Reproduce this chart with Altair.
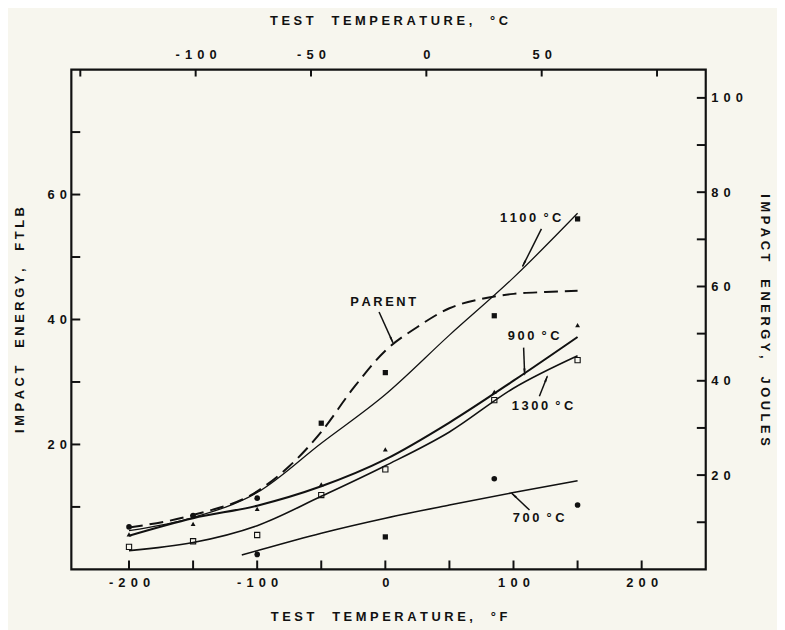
import math
import altair as alt
import pandas as pd

# ---------------- data ----------------
# curves: test temperature (deg F) vs impact energy (ft-lb)
parent_F = [-200, -150, -100, -75, -50, -25, 0, 25, 50, 75, 100, 125, 150]
parent_E = [6.7, 8.7, 12.5, 16.5, 22.0, 29.0, 35.0, 38.8, 41.8, 43.3, 44.1, 44.4, 44.6]

c1100_F = [-200, -150, -100, -50, 0, 50, 100, 150]
c1100_E = [6.2, 8.3, 12.3, 20.2, 28.0, 37.5, 46.7, 57.0]

c900_F = [-200, -150, -100, -50, 0, 50, 100, 150]
c900_E = [5.4, 8.2, 10.2, 13.3, 17.6, 23.5, 30.2, 37.2]

c1300_F = [-200, -150, -100, -50, 0, 50, 100, 150]
c1300_E = [3.0, 4.3, 7.0, 11.7, 16.6, 22.0, 29.0, 34.2]

c700_F = [-112, -100, -50, 0, 50, 100, 150]
c700_E = [2.3, 3.0, 5.8, 8.2, 10.3, 12.3, 14.2]

# measured points
tri_F = [-200, -150, -100, -50, 0, 85, 150]
tri_E = [5.6, 7.3, 9.7, 13.6, 19.2, 28.4, 39.1]

osq_F = [-200, -150, -100, -50, 0, 85, 150]
osq_E = [3.6, 4.5, 5.5, 11.9, 16.0, 27.1, 33.5]

fsq_F = [-50, 0, 85, 150, 0]
fsq_E = [23.4, 31.5, 40.6, 56.1, 5.2]

fcirc_F = [-200, -150, -100, -100, 85, 150]
fcirc_E = [6.8, 8.6, 11.4, 2.4, 14.5, 10.3]

# annotations
ann_text = ["1100 °C", "PARENT", "900 °C", "1300 °C", "700 °C"]
ann_F = [89.4, -27.3, 95.5, 98.6, 99.4]
ann_E = [56.2, 42.8, 37.4, 26.1, 8.2]
arr_F1 = [121.8, -4.9, 107.9, 120.2, 112.5]
arr_E1 = [54.5, 41.2, 35.5, 27.7, 9.5]
arr_F2 = [107.1, 5.9, 108.7, 126.4, 98.6]
arr_E2 = [48.5, 36.3, 31.2, 30.9, 12.2]

# axes
F_ticks = [-200, -150, -100, -50, 0, 50, 100, 150, 200]
F_labels = [-200, -100, 0, 100, 200]
E_ticks = [10, 20, 30, 40, 50, 60, 70]
E_labels = [20, 40, 60]
C_ticks = [-150, -100, -50, 0, 50, 100]
C_labels = [-100, -50, 0, 50]
J_ticks = [10, 20, 30, 40, 50, 60, 70, 80, 90, 100]
J_labels = [20, 40, 60, 80, 100]

X_MIN, X_MAX = -245, 250
Y_MIN, Y_MAX = 0, 80
J_MAX = 106
C_MIN, C_MAX = (X_MIN - 32) / 1.8, (X_MAX - 32) / 1.8

# ---------------- layout ----------------
W, H = 641, 505
FONT = "Liberation Sans"
INK = "#111111"
BG = "#f7f6ee"
THIN = "\u2009"
NB = "\u00a0"


def spaced(s, sep):
    return sep.join(list(s))


def title_text(s):
    # letter-spaced title, wide gaps between words
    return (NB * 5).join(spaced(w, NB) for w in s.split(" "))


def ann_label(s):
    if "°" in s:
        num = s.split(" ")[0]
        return spaced(num, THIN) + NB * 2 + "°" + NB + "C"
    return spaced(s, THIN)


xs = alt.Scale(domain=[X_MIN, X_MAX], nice=False, zero=False)
ys = alt.Scale(domain=[Y_MIN, Y_MAX], nice=False, zero=False)
cs = alt.Scale(domain=[C_MIN, C_MAX], nice=False, zero=False)
js = alt.Scale(domain=[0, J_MAX], nice=False, zero=False)

lab_expr = "join(split(toString(datum.value), ''), '" + THIN + THIN + "')"

common = dict(ticks=False, tickSize=0, domain=False, grid=False, labelExpr=lab_expr,
              labelFont=FONT, labelFontSize=13, labelFontWeight="bold", labelColor=INK,
              titleFont=FONT, titleFontSize=13, titleFontWeight="bold", titleColor=INK)

axisF = alt.Axis(values=F_labels, labelPadding=7,
                 title=title_text("TEST TEMPERATURE, °F"), titlePadding=22, **common)
axisE = alt.Axis(values=E_labels, labelPadding=5,
                 title=title_text("IMPACT ENERGY, FTLB"), titlePadding=21, **common)
axisC = alt.Axis(orient="top", values=C_labels, labelPadding=8,
                 title=title_text("TEST TEMPERATURE, °C"), titlePadding=22, **common)
axisJ = alt.Axis(orient="right", values=J_labels, labelPadding=5,
                 title=title_text("IMPACT ENERGY, JOULES"), titlePadding=15, **common)

X = lambda f="F": alt.X(f + ":Q", scale=xs, axis=axisF)
Y = lambda f="E": alt.Y(f + ":Q", scale=ys, axis=axisE)


def curve(F, E, width, dash=None):
    df = pd.DataFrame({"F": F, "E": E})
    kw = dict(color=INK, strokeWidth=width, interpolate="monotone", clip=True)
    if dash:
        kw["strokeDash"] = dash
    return alt.Chart(df).mark_line(**kw).encode(x=X(), y=Y())


def pts(F, E, shape, size, filled=True):
    df = pd.DataFrame({"F": F, "E": E})
    if filled:
        m = alt.Chart(df).mark_point(shape=shape, size=size, filled=True, color=INK, opacity=1)
    else:
        m = alt.Chart(df).mark_point(shape=shape, size=size, filled=False, color=INK,
                                     strokeWidth=1.1, opacity=1)
    return m.encode(x=X(), y=Y())


lines = [
    curve(parent_F, parent_E, 2.0, [14, 7]),
    curve(c1100_F, c1100_E, 1.3),
    curve(c900_F, c900_E, 2.1),
    curve(c1300_F, c1300_E, 1.6),
    curve(c700_F, c700_E, 1.6),
]
points = [
    pts(tri_F, tri_E, "triangle-up", 24),
    pts(osq_F, osq_E, "square", 28, filled=False),
    pts(fsq_F, fsq_E, "square", 28),
    pts(fcirc_F, fcirc_E, "circle", 32),
]

# annotations
pxF = W / (X_MAX - X_MIN)
pxE = H / (Y_MAX - Y_MIN)
angles, hx, hy = [], [], []
for x1, y1, x2, y2 in zip(arr_F1, arr_E1, arr_F2, arr_E2):
    dx = (x2 - x1) * pxF
    dy = -(y2 - y1) * pxE
    L = math.hypot(dx, dy)
    ux, uy = dx / L, dy / L
    angles.append(math.degrees(math.atan2(dx, -dy)) % 360)
    hx.append(x2 - 3.5 * ux / pxF)
    hy.append(y2 + 3.5 * uy / pxE)

ann_df = pd.DataFrame({"F": ann_F, "E": ann_E, "t": [ann_label(s) for s in ann_text]})
arr_df = pd.DataFrame({"F": arr_F1, "E": arr_E1, "F2": arr_F2, "E2": arr_E2})
head_df = pd.DataFrame({"F": hx, "E": hy, "ang": angles})

texts = alt.Chart(ann_df).mark_text(align="left", baseline="middle", font=FONT, fontSize=13,
                                    fontWeight="bold", color=INK).encode(x=X(), y=Y(), text="t:N")
shafts = alt.Chart(arr_df).mark_rule(color=INK, strokeWidth=1.5).encode(
    x=X(), y=Y(), x2="F2:Q", y2="E2:Q")
heads = alt.Chart(head_df).mark_point(shape="wedge", size=80, filled=True, color=INK,
                                      opacity=1).encode(
    x=X(), y=Y(), angle=alt.Angle("ang:Q", scale=None))

# inward ticks
bt = alt.Chart(pd.DataFrame({"F": F_ticks})).mark_rule(color=INK, strokeWidth=2).encode(
    x=X(), y=alt.value(H), y2=alt.value(H - 9))
lt = alt.Chart(pd.DataFrame({"E": E_ticks})).mark_rule(color=INK, strokeWidth=2).encode(
    y=Y(), x=alt.value(0), x2=alt.value(9))

main = alt.layer(bt, lt, *lines, *points, shafts, heads, texts)

tt = alt.Chart(pd.DataFrame({"C": C_ticks})).mark_rule(color=INK, strokeWidth=2).encode(
    x=alt.X("C:Q", scale=cs, axis=axisC), y=alt.value(0), y2=alt.value(7))
rt = alt.Chart(pd.DataFrame({"J": J_ticks})).mark_rule(color=INK, strokeWidth=2).encode(
    y=alt.Y("J:Q", scale=js, axis=axisJ), x=alt.value(W), x2=alt.value(W - 9))
secondary = alt.layer(tt, rt)

chart = alt.layer(main, secondary).resolve_scale(x="independent", y="independent").properties(
    width=W, height=H,
    padding={"left": 64, "top": 59, "right": 72, "bottom": 58},
    autosize=alt.AutoSizeParams(type="none"),
    background=BG,
).configure_view(stroke=INK, strokeWidth=2.2)

chart.save("out.html", embed_options={"renderer": "svg", "actions": False})
